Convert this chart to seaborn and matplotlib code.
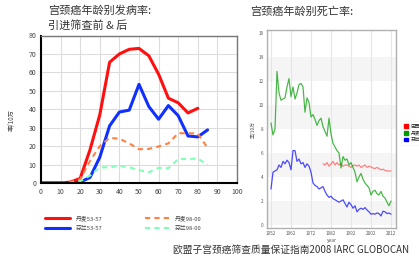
import matplotlib
matplotlib.use("Agg")
import matplotlib.pyplot as plt
from matplotlib.patches import Patch
import seaborn as sns
import pandas as pd

# left chart: age-specific incidence, per 100k
ages = [0, 5, 10, 15, 20, 25, 30, 35, 40, 45, 50, 55, 60, 65, 70, 75, 80, 85]
dk_53 = [0, 0, 0, 0.5, 2.5, 18, 37, 65.5, 70, 72.5, 73, 69, 59, 46, 43.5, 38, 40.5]
fi_53 = [0, 0, 0, 0, 0.5, 3, 14, 31, 38.5, 39.5, 53.5, 41.5, 34.6, 42, 36.5, 25.5, 25, 28.8]
dk_98 = [0, 0, 0, 0.5, 2, 12, 20, 24.5, 24, 21.5, 18.3, 18.5, 19.8, 21.5, 27, 27, 26.8, 19]
fi_98 = [0, 0, 0, 0, 1, 4, 8.5, 8.5, 9.3, 8.5, 7, 5.8, 8.2, 8, 13, 13, 13.3, 9.8]
left_labels = ["丹麦53-57", "芬兰53-57", "丹麦98-00", "芬兰98-00"]

# right chart: mortality by year, per 100k
years = list(range(1952, 2013))
dk_mort = [8.5, 7.5, 8.0, 12.8, 11.0, 10.4, 10.5, 10.6, 11.5, 12.2,
           10.7, 11.5, 10.5, 11.0, 11.7, 11.8, 11.5, 9.4, 10.6, 10.2,
           9.0, 9.2, 8.8, 8.3, 8.7, 8.9, 8.2, 7.8, 7.4, 8.9,
           7.6, 6.8, 6.5, 6.2, 6.0, 4.75, 5.7, 5.4, 5.5, 5.0,
           5.2, 4.8, 4.4, 3.6, 4.0, 4.3, 3.8, 3.5, 3.3, 3.1,
           2.5, 2.8, 2.9, 2.6, 2.5, 2.8, 2.4, 2.25, 1.9, 1.6, 2.0]
fi_mort = [3.0, 4.4, 4.5, 4.6, 5.0, 4.8, 5.3, 5.1, 5.4, 5.2,
           4.6, 6.2, 6.2, 5.3, 5.5, 5.1, 5.2, 4.8, 5.1, 4.9,
           4.4, 3.5, 3.3, 3.2, 3.0, 3.1, 3.2, 2.8, 2.5, 2.3,
           2.4, 2.2, 2.1, 2.0, 1.9, 2.0, 2.1, 1.8, 1.5, 1.9,
           1.7, 1.4, 1.6, 1.1, 1.3, 1.4, 1.3, 1.45, 1.25, 1.1,
           0.9, 0.95, 0.9, 1.0, 0.95, 0.75, 1.15, 1.1, 0.95, 1.0, 0.9]
br_years = list(range(1978, 2013))
br_mort = [5.1, 5.0, 5.2, 4.9, 5.1, 5.3, 5.0, 5.2, 5.0, 5.1,
           4.9, 5.0, 5.0, 4.9, 4.8, 4.95, 5.0, 4.9, 5.0, 4.8,
           4.9, 5.0, 4.8, 4.9, 4.85, 4.75, 4.7, 4.8, 4.7, 4.6,
           4.65, 4.55, 4.5, 4.5, 4.5]
right_labels = ["巴西", "丹麦", "芬兰"]

sns.set_style("white")
cjk = ["Noto Sans CJK SC", "DejaVu Sans"]
plt.rcParams["font.family"] = cjk

W, H = 419, 262
fig = plt.figure(figsize=(W / 100, H / 100), dpi=100)

# ---------- left chart ----------
ax = fig.add_axes([41 / W, 79 / H, 196 / W, 147.5 / H])
sns.lineplot(x=ages[:len(dk_53)], y=dk_53, ax=ax, color="#ff1010", lw=2.2, label=left_labels[0])
sns.lineplot(x=ages, y=fi_53, ax=ax, color="#1030ff", lw=2.2, label=left_labels[1])
sns.lineplot(x=ages, y=dk_98, ax=ax, color="#ff8040", lw=1.5, linestyle=(0, (2.5, 2)), label=left_labels[2])
sns.lineplot(x=ages, y=fi_98, ax=ax, color="#80ffb8", lw=1.5, linestyle=(0, (2.5, 2)), label=left_labels[3])
ax.set_xlim(0, 100)
ax.set_ylim(0, 80)
ax.set_xticks(range(0, 101, 10))
ax.set_yticks(range(0, 81, 10))
ax.grid(True, color="#dcdcdc", lw=0.8)
ax.tick_params(labelsize=5, colors="#444444", length=2, width=0.8, pad=1.5)
for s in ["left", "bottom"]:
    ax.spines[s].set_color("black")
    ax.spines[s].set_linewidth(1.5)
for s in ["top", "right"]:
    ax.spines[s].set_color("#777777")
    ax.spines[s].set_linewidth(1)
leg = ax.legend(loc="upper left", bbox_to_anchor=(41 / W, 1 - 211 / H), bbox_transform=fig.transFigure,
                ncol=2, fontsize=4.2, frameon=False, handlelength=4.2, columnspacing=7.3,
                labelspacing=0.9, handletextpad=1.0, borderpad=0.2)
for t in leg.get_texts():
    t.set_color("#444444")

fig.text(48 / W, 1 - 11 / H, "宫颈癌年龄别发病率:", fontsize=8, color="#333333", va="center")
fig.text(48 / W, 1 - 26 / H, "引进筛查前 & 后", fontsize=8, color="#333333", va="center")
fig.text(12 / W, 1 - 120 / H, "率/10万", fontsize=4.5, color="#444444", rotation=90, ha="center", va="center")

# ---------- right chart ----------
ax2 = fig.add_axes([267 / W, 34 / H, 129 / W, 198 / H])
for lo in [0, 4, 8, 12]:
    ax2.axhspan(lo, lo + 2, color="#f5f5f5", lw=0, zorder=0)
for xv in range(1952, 2013, 10):
    ax2.axvline(xv, color="#e6e6e6", lw=0.8, zorder=0)
sns.lineplot(x=br_years, y=br_mort, ax=ax2, color="#ff5050", lw=0.9, alpha=0.7)
sns.lineplot(x=years, y=dk_mort, ax=ax2, color="#10a010", lw=0.9, alpha=0.75)
sns.lineplot(x=years, y=fi_mort, ax=ax2, color="#2020ff", lw=0.9, alpha=0.8)
ax2.set_xlim(1950, 2014.5)
ax2.set_ylim(-0.25, 16.25)
ax2.set_xticks(range(1952, 2013, 10))
ax2.set_yticks(range(0, 17, 2))
ax2.tick_params(labelsize=3.3, colors="#555555", length=1.5, width=0.5, pad=1)
for s in ax2.spines.values():
    s.set_color("#b0b0b0")
    s.set_linewidth(1)
ax2.set_xlabel("year", fontsize=3.5, color="#555555", labelpad=1)
ax2.set_ylabel("率/10万", fontsize=3.5, color="#555555", labelpad=2)
handles = [Patch(color=c) for c in ["#ff0000", "#009900", "#0000ff"]]
leg2 = ax2.legend(handles=handles, labels=right_labels, loc="upper left",
                  bbox_to_anchor=(399 / W, 1 - 119 / H), bbox_transform=fig.transFigure,
                  fontsize=3.5, frameon=True, handlelength=0.8, handleheight=0.8,
                  labelspacing=0.35, handletextpad=0.6, borderpad=0.5)
leg2.get_frame().set_edgecolor("#f0f0f0")
leg2.get_frame().set_linewidth(0.5)

fig.text(250 / W, 1 - 12 / H, "宫颈癌年龄别死亡率:", fontsize=8, color="#333333", va="center")
fig.text(173 / W, 1 - 250 / H, "欧盟子宫颈癌筛查质量保证指南2008 IARC GLOBOCAN", fontsize=7,
         color="#333333", va="center")

fig.savefig("out.png", dpi=100)
